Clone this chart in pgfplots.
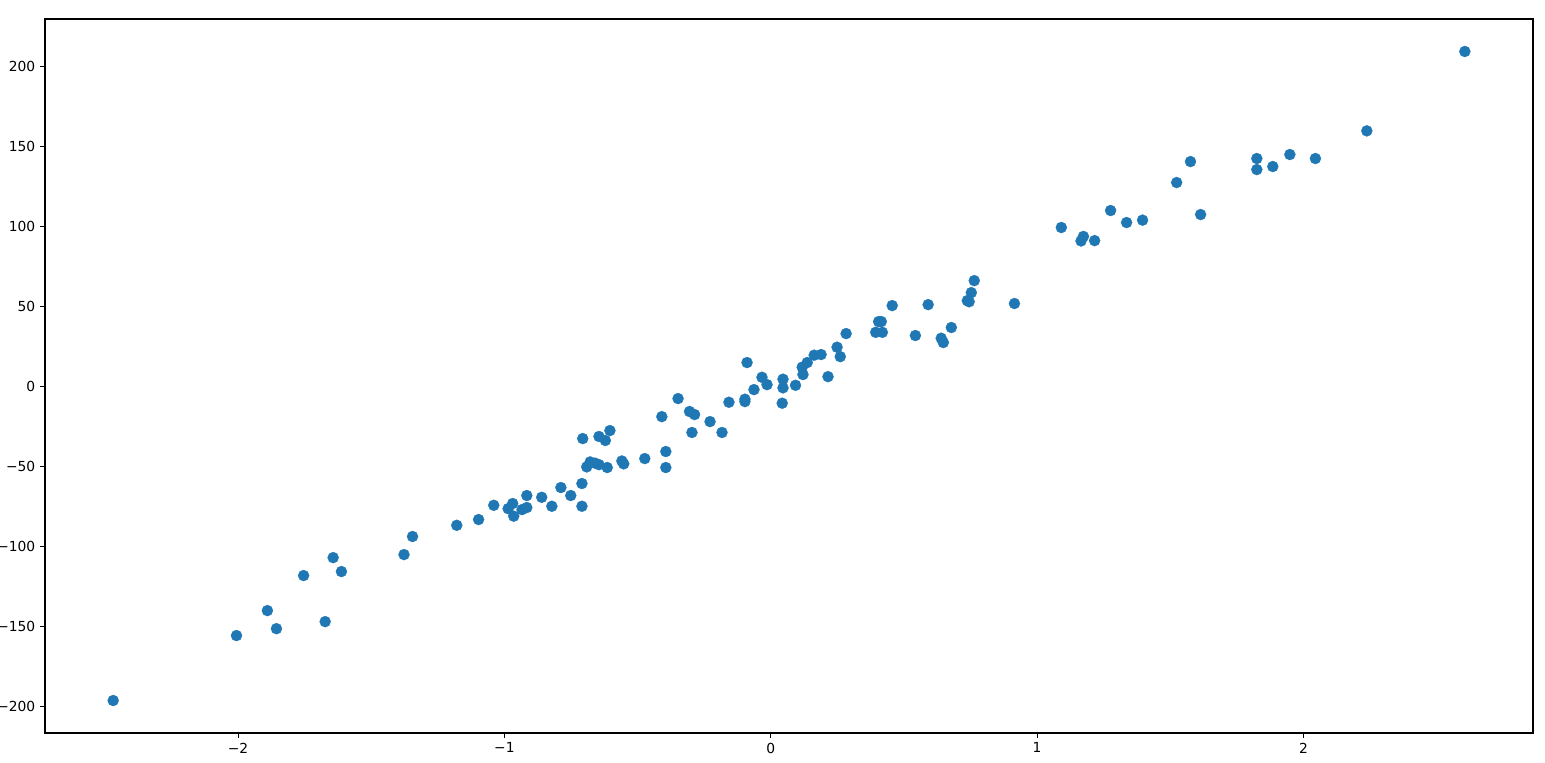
\documentclass[border=0pt]{standalone}
\usepackage{pgfplots}
\pgfplotsset{compat=1.18}
\usepackage{fontspec}
\setmainfont{DejaVu Sans}
\definecolor{mplblue}{HTML}{1F77B4}
\begin{document}
\begin{tikzpicture}
\begin{axis}[
    scale only axis,
    width=14.88in, height=7.14in,
    xmin=-2.725, xmax=2.862,
    ymin=-216.7, ymax=229.5,
    axis line style={line width=0.8pt},
    tick align=outside,
    major tick length=3.5pt,
    tick style={black, line width=0.8pt},
    xtick pos=left, ytick pos=left,
    xtick={-2,-1,0,1,2},
    xticklabels={−2,−1,0,1,2},
    ytick={-200,-150,-100,-50,0,50,100,150,200},
    yticklabels={−200,−150,−100,−50,0,50,100,150,200},
    tick label style={font=\fontsize{10}{12}\selectfont},
]
\addplot[only marks, mark=*, mark size=4pt,
    mark options={fill=mplblue, draw=mplblue, line width=0.2pt}] coordinates {
    (-2.469,-196.4) (-2.006,-155.8) (-1.890,-140.2) (-1.856,-151.5)
    (-1.754,-118.3) (-1.673,-147.1) (-1.643,-107.1) (-1.612,-115.8)
    (-1.377,-105.2) (-1.345,-93.9)
    (-1.179,-86.9) (-1.097,-83.3) (-1.040,-74.4) (-0.986,-76.5)
    (-0.969,-73.3) (-0.965,-81.2) (-0.934,-77.1) (-0.916,-75.8)
    (-0.916,-68.3) (-0.860,-69.4) (-0.822,-75.0) (-0.788,-63.3)
    (-0.751,-68.3) (-0.709,-60.8) (-0.709,-75.0) (-0.706,-32.7)
    (-0.691,-50.4) (-0.678,-47.3) (-0.659,-48.1) (-0.645,-49.0)
    (-0.645,-31.4) (-0.621,-33.9) (-0.614,-50.8) (-0.604,-27.7)
    (-0.559,-46.7) (-0.552,-48.5) (-0.473,-45.2) (-0.394,-40.8)
    (-0.394,-50.8) (-0.409,-19.0) (-0.348,-7.7) (-0.305,-15.8)
    (-0.286,-17.7) (-0.296,-28.9)
    (-0.228,-22.1) (-0.183,-28.9) (-0.157,-10.0) (-0.097,-9.6)
    (-0.097,-8.1) (-0.089,14.8) (-0.063,-2.1) (-0.033,5.6)
    (-0.014,1.0) (0.046,4.4) (0.046,-1.0) (0.043,-10.6)
    (0.093,0.6) (0.118,11.9) (0.121,7.3) (0.137,14.8)
    (0.163,19.4) (0.189,19.8) (0.215,6.0) (0.249,24.4) (0.261,18.5)
    (0.283,32.9) (0.394,33.7) (0.419,33.7) (0.405,40.4) (0.415,40.4)
    (0.456,50.4) (0.543,31.7) (0.591,51.0) (0.640,30.0) (0.648,27.3)
    (0.678,36.7) (0.738,53.5) (0.745,52.8) (0.753,58.5) (0.764,66.0)
    (0.915,51.7)
    (1.091,99.2) (1.165,90.8) (1.174,93.6) (1.216,91.0) (1.276,109.8)
    (1.336,102.3) (1.396,103.8) (1.524,127.3) (1.576,140.4) (1.614,107.3)
    (1.825,142.3) (1.825,135.4) (1.885,137.3) (1.949,144.8) (2.045,142.3)
    (2.238,159.6) (2.606,209.2)
};
\end{axis}
\pgfresetboundingbox
\path ([shift={(-0.45in,-0.29in)}]current axis.south west)
    rectangle ([shift={(0.12in,0.19in)}]current axis.north east);
\end{tikzpicture}
\end{document}
